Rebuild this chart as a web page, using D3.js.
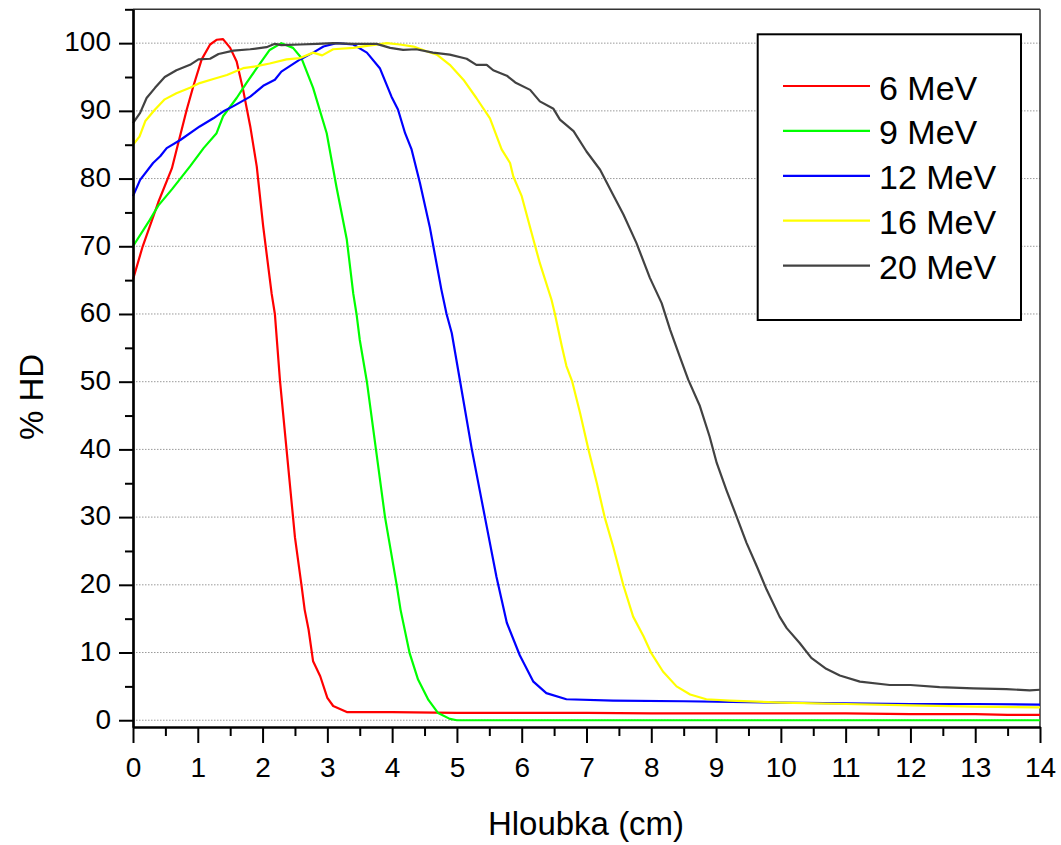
<!DOCTYPE html>
<html>
<head>
<meta charset="utf-8">
<script src="https://cdn.jsdelivr.net/npm/d3@7"></script>
<style>
  html, body { margin: 0; padding: 0; background: #fff; }
  svg { display: block; }
  text { font-family: "Liberation Sans", Arial, sans-serif; fill: #000; }
</style>
</head>
<body>
<svg id="chart" width="1061" height="845"></svg>
<script>
// ---- data ----
const seriesNames = ["6 MeV", "9 MeV", "12 MeV", "16 MeV", "20 MeV"];
const seriesColors = ["#ff0000", "#00ff00", "#0000ff", "#ffff00", "#424242"];

const depth6 = [0, 0.15, 0.39, 0.6, 0.7, 0.83, 0.93, 1.06, 1.19, 1.29, 1.39, 1.5, 1.6, 1.7, 1.81, 1.91, 2.01, 2.14, 2.19, 2.27, 2.37, 2.47, 2.5, 2.6, 2.65, 2.71, 2.78, 2.89, 3.0, 3.09, 3.3, 4, 5, 6, 7, 8, 9, 10, 11, 12, 13, 13.5, 14];
const hd6 = [65.1, 70, 76.5, 81.5, 85.3, 90.2, 93.6, 97.6, 99.8, 100.5, 100.6, 99.3, 97.3, 93.1, 87.7, 81.8, 72.9, 63, 60, 50, 40, 30, 27, 20, 16.3, 13.4, 8.7, 6.5, 3.3, 2.1, 1.2, 1.2, 1.1, 1.1, 1.1, 1.0, 1.0, 1.0, 1.0, 0.9, 0.9, 0.8, 0.8];

const depth9 = [0, 0.26, 0.39, 0.6, 0.88, 1.09, 1.29, 1.39, 1.6, 1.75, 1.91, 2.11, 2.29, 2.47, 2.6, 2.78, 2.99, 3.14, 3.3, 3.4, 3.45, 3.5, 3.61, 3.75, 3.89, 4.07, 4.13, 4.27, 4.4, 4.56, 4.71, 4.89, 5.0, 6, 8, 10, 12, 14];
const hd9 = [70, 73.9, 76, 78.4, 81.8, 84.5, 86.7, 89.2, 91.9, 94.1, 96.3, 99, 100, 99.3, 97.8, 93.4, 86.7, 78.8, 71, 63, 60, 56.2, 50, 40, 30, 20, 16.3, 9.9, 6, 3, 1.06, 0.2, 0, 0, 0, 0, 0, 0];

const depth12 = [0, 0.11, 0.31, 0.42, 0.52, 0.73, 1.03, 1.24, 1.39, 1.55, 1.81, 2.01, 2.19, 2.29, 2.42, 2.58, 2.78, 2.94, 3.14, 3.4, 3.61, 3.81, 3.99, 4.09, 4.2, 4.3, 4.43, 4.58, 4.76, 4.84, 4.92, 5.05, 5.23, 5.355, 5.46, 5.61, 5.69, 5.77, 5.97, 6.18, 6.38, 6.69, 7.41, 8.5, 10, 11, 12, 13, 14];
const hd12 = [77.4, 79.8, 82.3, 83.3, 84.5, 85.7, 87.7, 88.9, 89.9, 90.7, 92.1, 93.7, 94.6, 95.8, 96.6, 97.6, 98.6, 99.5, 100, 99.8, 98.6, 96.3, 92.1, 90.2, 86.7, 84.3, 79.3, 72.9, 63.6, 60, 57.2, 50, 40, 33.8, 28.6, 21.2, 17.8, 14.4, 9.6, 5.7, 4.0, 3.1, 2.9, 2.8, 2.6, 2.5, 2.4, 2.4, 2.3];

const depth16 = [0, 0.1, 0.19, 0.34, 0.49, 0.67, 0.88, 1.03, 1.24, 1.45, 1.7, 1.91, 2.11, 2.37, 2.58, 2.78, 2.92, 3.09, 3.4, 3.61, 3.92, 4.12, 4.33, 4.53, 4.69, 4.89, 5.1, 5.3, 5.51, 5.69, 5.82, 5.87, 6.0, 6.18, 6.28, 6.46, 6.51, 6.62, 6.69, 6.78, 6.9, 7.03, 7.16, 7.28, 7.41, 7.57, 7.72, 7.88, 8.0, 8.18, 8.39, 8.6, 8.85, 9.21, 10, 11, 12, 13, 14];
const hd16 = [85, 86.2, 88.5, 90.2, 91.7, 92.6, 93.4, 94.1, 94.7, 95.3, 96.3, 96.6, 97, 97.6, 97.8, 98.6, 98.2, 99.1, 99.3, 99.6, 100, 99.8, 99.5, 98.8, 98.3, 96.8, 94.6, 91.9, 88.9, 84.3, 82.3, 80.3, 77.4, 71, 67.5, 62.1, 60.1, 55.2, 52.3, 50, 45.4, 40, 35, 30, 25.7, 19.9, 15.3, 12.4, 9.9, 7.2, 5.0, 3.8, 3.1, 2.9, 2.6, 2.4, 2.2, 2.0, 1.9];

const depth20 = [0, 0.11, 0.21, 0.34, 0.49, 0.67, 0.88, 1.01, 1.19, 1.32, 1.55, 1.81, 2.06, 2.19, 2.29, 2.58, 2.84, 3.09, 3.4, 3.76, 3.97, 4.17, 4.37, 4.63, 4.89, 5.15, 5.3, 5.46, 5.56, 5.77, 5.9, 6.13, 6.28, 6.49, 6.59, 6.8, 7.0, 7.21, 7.41, 7.57, 7.77, 7.98, 8.16, 8.29, 8.44, 8.57, 8.75, 8.9, 9.01, 9.16, 9.32, 9.47, 9.63, 9.78, 9.98, 10.09, 10.29, 10.47, 10.7, 10.91, 11.22, 11.68, 12.0, 12.45, 12.97, 13.48, 13.84, 14];
const hd20 = [88.2, 89.7, 91.9, 93.4, 95, 96, 96.8, 97.6, 97.7, 98.4, 98.9, 99.1, 99.4, 99.9, 99.7, 99.8, 99.9, 100, 99.9, 99.9, 99.3, 99, 99.1, 98.6, 98.3, 97.7, 96.8, 96.8, 96, 95.2, 94.2, 93.1, 91.4, 90.3, 88.7, 87, 84, 81.3, 77.6, 74.7, 70.5, 65.3, 61.6, 57.7, 53.7, 50.3, 46.4, 41.9, 38, 34, 30, 26.2, 22.7, 19.3, 15.3, 13.6, 11.4, 9.2, 7.6, 6.6, 5.7, 5.2, 5.2, 4.9, 4.7, 4.6, 4.4, 4.5];

const xTickValues = [0, 1, 2, 3, 4, 5, 6, 7, 8, 9, 10, 11, 12, 13, 14];
const xMinorTickValues = [0.5, 1.5, 2.5, 3.5, 4.5, 5.5, 6.5, 7.5, 8.5, 9.5, 10.5, 11.5, 12.5, 13.5];
const yTickValues = [0, 10, 20, 30, 40, 50, 60, 70, 80, 90, 100];
const yMinorTickValues = [5, 15, 25, 35, 45, 55, 65, 75, 85, 95, 105];

const xTitle = "Hloubka (cm)";
const yTitle = "% HD";

// ---- build ----
const depths = [depth6, depth9, depth12, depth16, depth20];
const values = [hd6, hd9, hd12, hd16, hd20];
const series = seriesNames.map((name, i) => ({
  name, color: seriesColors[i],
  points: depths[i].map((d, j) => ({ x: d, y: values[i][j] }))
}));

const svg = d3.select("#chart");
const plotLeft = 133, plotRight = 1040, plotTop = 9.3, plotBottom = 727;

const x = d3.scaleLinear().domain([0, 14]).range([plotLeft, plotRight]);
const y = d3.scaleLinear().domain([-1, 105]).range([plotBottom, plotTop]);

// grid
svg.append("g").selectAll("line").data(yTickValues).join("line")
  .attr("x1", plotLeft).attr("x2", plotRight)
  .attr("y1", d => y(d)).attr("y2", d => y(d))
  .attr("stroke", "#9a9a9a").attr("stroke-width", 1)
  .attr("stroke-dasharray", "1.5,1.5");

// frame top / right
svg.append("line").attr("x1", plotLeft).attr("x2", plotRight).attr("y1", plotTop).attr("y2", plotTop)
  .attr("stroke", "#333").attr("stroke-width", 1.5);
svg.append("line").attr("x1", plotRight).attr("x2", plotRight).attr("y1", plotTop).attr("y2", plotBottom)
  .attr("stroke", "#333").attr("stroke-width", 1.5);

// lines
const line = d3.line().x(d => x(d.x)).y(d => y(d.y));
const plot = svg.append("g");
series.forEach(s => {
  plot.append("path").datum(s.points)
    .attr("fill", "none").attr("stroke", s.color)
    .attr("stroke-width", 2.2).attr("stroke-linejoin", "round")
    .attr("d", line);
});

// axes
function styleAxis(g) {
  g.select(".domain").attr("stroke", "#000").attr("stroke-width", 2.2);
  g.selectAll(".tick line").attr("stroke", "#000").attr("stroke-width", 2);
  g.selectAll("text").attr("font-family", "Liberation Sans, Arial, sans-serif")
    .attr("font-size", 28).attr("fill", "#000");
}

const xMinor = svg.append("g").attr("transform", `translate(0,${plotBottom})`)
  .call(d3.axisBottom(x).tickValues(xMinorTickValues).tickSize(9).tickSizeOuter(0).tickFormat(""));
styleAxis(xMinor);
const xMajor = svg.append("g").attr("transform", `translate(0,${plotBottom})`)
  .call(d3.axisBottom(x).tickValues(xTickValues).tickSize(16).tickSizeOuter(0).tickPadding(14).tickFormat(d3.format("d")));
styleAxis(xMajor);
xMajor.selectAll("text").attr("dy", "0.71em");

const yMinor = svg.append("g").attr("transform", `translate(${plotLeft},0)`)
  .call(d3.axisLeft(y).tickValues(yMinorTickValues).tickSize(8).tickSizeOuter(0).tickFormat(""));
styleAxis(yMinor);
const yMajor = svg.append("g").attr("transform", `translate(${plotLeft},0)`)
  .call(d3.axisLeft(y).tickValues(yTickValues).tickSize(14).tickSizeOuter(0).tickPadding(8).tickFormat(d3.format("d")));
styleAxis(yMajor);
yMajor.selectAll("text").attr("dy", "0.28em");

// axis titles
svg.append("text").attr("x", 586).attr("y", 835)
  .attr("text-anchor", "middle").attr("font-size", 33).text(xTitle);
svg.append("text").attr("transform", "translate(43,397) rotate(-90)")
  .attr("text-anchor", "middle").attr("font-size", 33).text(yTitle);

// legend
const lg = svg.append("g");
lg.append("rect").attr("x", 757.7).attr("y", 34.3).attr("width", 263.3).attr("height", 285.7)
  .attr("fill", "#fff").attr("stroke", "#000").attr("stroke-width", 2);
series.forEach((s, i) => {
  const ly = 86 + i * 44.9;
  lg.append("line").attr("x1", 783).attr("x2", 870).attr("y1", ly).attr("y2", ly)
    .attr("stroke", s.color).attr("stroke-width", 2.2);
  lg.append("text").attr("x", 879).attr("y", ly + 13.5)
    .attr("font-size", 34).text(s.name);
});
</script>
</body>
</html>
